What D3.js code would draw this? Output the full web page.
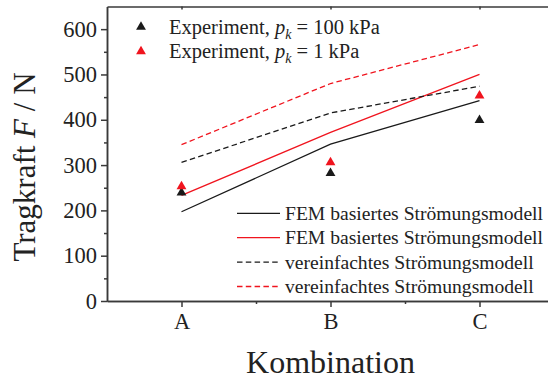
<!DOCTYPE html>
<html>
<head>
<meta charset="utf-8">
<script src="https://cdn.jsdelivr.net/npm/d3@7"></script>
<style>
  body { margin: 0; background: #fff; }
  svg { display: block; }
</style>
</head>
<body>
<div id="chart"></div>
<script>
var categories = ["A", "B", "C"];
var femHigh = [197, 346, 442];      // FEM, p_k = 100 kPa (black solid)
var femLow = [233, 372, 500];       // FEM, p_k = 1 kPa (red solid)
var simpleHigh = [306, 415, 474];   // vereinfacht, black dashed
var simpleLow = [345, 480, 566];    // vereinfacht, red dashed
var expHigh = [239, 282, 399];      // Experiment, 100 kPa
var expLow = [253, 306, 453];       // Experiment, 1 kPa
var yTicks = [0, 100, 200, 300, 400, 500, 600];

var w = 548, h = 384;
var red = "#f0141e", black = "#1a1a1a", axisCol = "#3a3a3a";
var serif = "'Liberation Serif', 'Times New Roman', serif";

var x = d3.scaleLinear().domain([0.5, 3.5]).range([107, 554]);
var y = d3.scaleLinear().domain([0, 650]).range([301, 6.5]);

var svg = d3.select("#chart")
    .append("svg")
    .attr("width", w)
    .attr("height", h);

// axes
svg.append("g")
    .attr("transform", "translate(" + x(0.5) + ",0)")
    .call(d3.axisLeft(y).tickValues(yTicks).tickSize(6).tickSizeOuter(0).tickPadding(4));

svg.append("g")
    .attr("transform", "translate(" + x(0.5) + ",0)")
    .call(d3.axisLeft(y).tickValues(d3.range(50, 650, 100)).tickSize(3).tickSizeOuter(0).tickFormat(""));

svg.append("g")
    .attr("transform", "translate(0," + y(0) + ")")
    .call(d3.axisBottom(x).tickValues([1, 2, 3]).tickSize(6).tickSizeOuter(0).tickPadding(6)
        .tickFormat(function(d) { return categories[d - 1]; }));

svg.append("g")
    .attr("transform", "translate(0," + y(0) + ")")
    .call(d3.axisBottom(x).tickValues([1.5, 2.5]).tickSize(3).tickSizeOuter(0).tickFormat(""));

// top frame, ticks pointing inward
svg.append("g")
    .attr("transform", "translate(0," + y(650) + ")")
    .call(d3.axisBottom(x).tickValues([1, 2, 3]).tickSize(3).tickSizeOuter(0).tickFormat(""));

svg.selectAll(".domain, .tick line")
    .attr("stroke", axisCol)
    .attr("stroke-width", 1.5);

svg.selectAll(".tick text")
    .attr("font-family", serif)
    .attr("font-size", "22.5px")
    .attr("fill", "#222");

// lines
var line = d3.line()
    .x(function(d, i) { return x(i + 1); })
    .y(function(d) { return y(d); });

var series = [
    { data: femHigh, color: black, dash: null },
    { data: femLow, color: red, dash: null },
    { data: simpleHigh, color: black, dash: "5.5,3.3" },
    { data: simpleLow, color: red, dash: "5.5,3.3" }
];

series.forEach(function(s) {
    svg.append("path")
        .datum(s.data)
        .attr("d", line)
        .attr("fill", "none")
        .attr("stroke", s.color)
        .attr("stroke-width", 1.3)
        .attr("stroke-dasharray", s.dash);
});

// experiment markers
var tri = d3.symbol().type(d3.symbolTriangle).size(42);

[{ data: expHigh, color: black }, { data: expLow, color: red }].forEach(function(s) {
    svg.selectAll(null)
        .data(s.data)
        .enter()
        .append("path")
        .attr("d", tri)
        .attr("transform", function(d, i) {
            return "translate(" + x(i + 1) + "," + y(d) + ")";
        })
        .attr("fill", s.color);
});

// legend for markers
var leg1 = [{ color: black, val: "100 kPa" }, { color: red, val: "1 kPa" }];
leg1.forEach(function(l, i) {
    var cy = 27 + i * 24.5;
    svg.append("path")
        .attr("d", tri)
        .attr("transform", "translate(141," + cy + ")")
        .attr("fill", l.color);
    var t = svg.append("text")
        .attr("x", 169)
        .attr("y", cy + 6.8)
        .attr("font-family", serif)
        .attr("font-size", "20.5px")
        .attr("fill", "#222");
    t.append("tspan").text("Experiment, ");
    t.append("tspan").attr("font-style", "italic").text("p");
    t.append("tspan").attr("font-style", "italic").attr("font-size", "14px").attr("dy", 5).text("k");
    t.append("tspan").attr("dy", -5).text(" = " + l.val);
});

// legend for lines
var leg2 = [
    { color: black, dash: null, label: "FEM basiertes Strömungsmodell" },
    { color: red, dash: null, label: "FEM basiertes Strömungsmodell" },
    { color: black, dash: "5.5,3.3", label: "vereinfachtes Strömungsmodell" },
    { color: red, dash: "5.5,3.3", label: "vereinfachtes Strömungsmodell" }
];
leg2.forEach(function(l, i) {
    var cy = 213.3 + i * 24.4;
    svg.append("line")
        .attr("x1", 237)
        .attr("x2", 280)
        .attr("y1", cy)
        .attr("y2", cy)
        .attr("stroke", l.color)
        .attr("stroke-width", 1.3)
        .attr("stroke-dasharray", l.dash);
    svg.append("text")
        .attr("x", 285)
        .attr("y", cy + 6.5)
        .attr("font-family", serif)
        .attr("font-size", "19.6px")
        .attr("fill", "#222")
        .text(l.label);
});

// axis titles
var yt = svg.append("text")
    .attr("transform", "translate(35,167) rotate(-90)")
    .attr("text-anchor", "middle")
    .attr("font-family", serif)
    .attr("font-size", "31px")
    .attr("fill", "#222");
yt.append("tspan").text("Tragkraft ");
yt.append("tspan").attr("font-style", "italic").text("F");
yt.append("tspan").text(" / N");

svg.append("text")
    .attr("x", x(2))
    .attr("y", 373)
    .attr("text-anchor", "middle")
    .attr("font-family", serif)
    .attr("font-size", "32px")
    .attr("fill", "#222")
    .text("Kombination");
</script>
</body>
</html>
